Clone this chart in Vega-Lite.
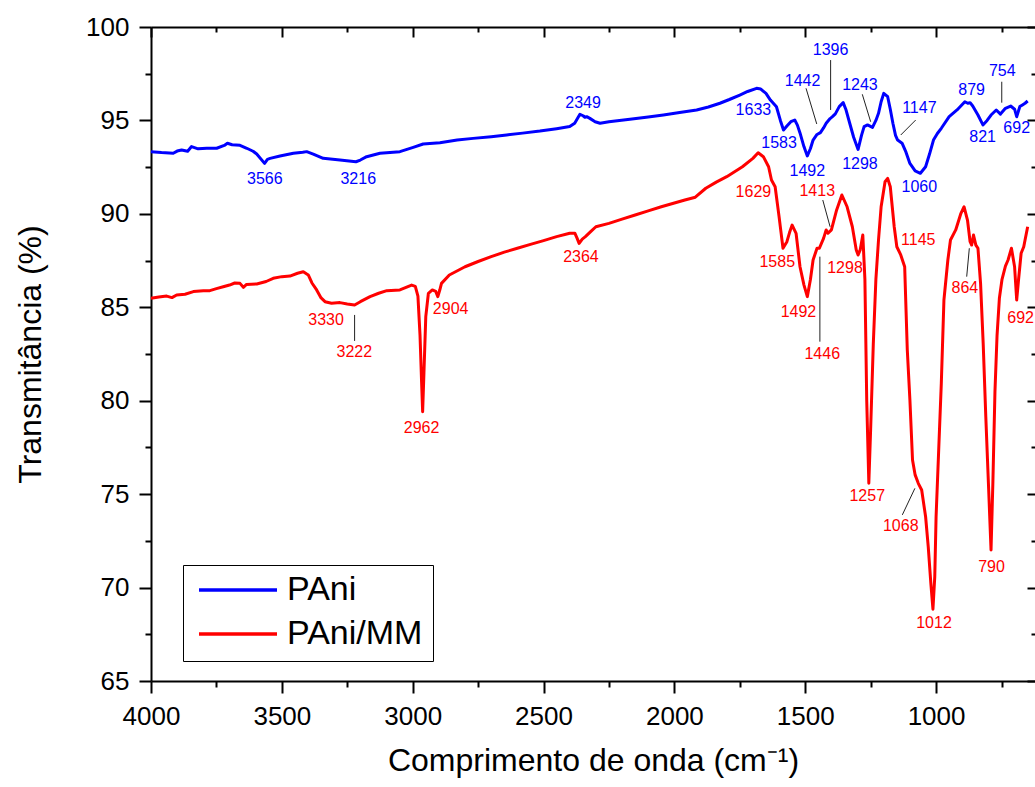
{
  "$schema": "https://vega.github.io/schema/vega-lite/v6.json",
  "width": 884,
  "height": 654,
  "autosize": {"type": "none"},
  "padding": {"left": 151, "top": 27, "right": 0, "bottom": 106},
  "background": "white",
  "config": {
    "font": "Liberation Sans",
    "view": {"stroke": null},
    "axis": {
      "grid": false,
      "domainColor": "black",
      "domainWidth": 2,
      "tickColor": "black",
      "tickWidth": 2,
      "labelFont": "Liberation Sans",
      "labelFontSize": 26,
      "labelColor": "black",
      "labelFlush": false,
      "labelOverlap": false,
      "titleFont": "Liberation Sans",
      "titleFontSize": 32,
      "titleFontWeight": "normal",
      "titleColor": "black"
    }
  },
  "datasets": {
    "spectra": [
      {"s":"PAni","wn":4000,"t":93.33},{"s":"PAni","wn":3960,"t":93.28},{"s":"PAni","wn":3915,"t":93.24},{"s":"PAni","wn":3900,"t":93.36},{"s":"PAni","wn":3883,"t":93.42},{"s":"PAni","wn":3860,"t":93.35},{"s":"PAni","wn":3845,"t":93.6},{"s":"PAni","wn":3820,"t":93.48},{"s":"PAni","wn":3787,"t":93.51},{"s":"PAni","wn":3749,"t":93.51},{"s":"PAni","wn":3720,"t":93.66},{"s":"PAni","wn":3708,"t":93.78},{"s":"PAni","wn":3690,"t":93.7},{"s":"PAni","wn":3660,"t":93.67},{"s":"PAni","wn":3634,"t":93.51},{"s":"PAni","wn":3610,"t":93.35},{"s":"PAni","wn":3596,"t":93.2},{"s":"PAni","wn":3566,"t":92.7},{"s":"PAni","wn":3555,"t":92.92},{"s":"PAni","wn":3545,"t":92.97},{"s":"PAni","wn":3507,"t":93.1},{"s":"PAni","wn":3456,"t":93.24},{"s":"PAni","wn":3420,"t":93.3},{"s":"PAni","wn":3405,"t":93.33},{"s":"PAni","wn":3380,"t":93.2},{"s":"PAni","wn":3342,"t":92.97},{"s":"PAni","wn":3278,"t":92.88},{"s":"PAni","wn":3217,"t":92.79},{"s":"PAni","wn":3200,"t":92.88},{"s":"PAni","wn":3176,"t":93.06},{"s":"PAni","wn":3125,"t":93.24},{"s":"PAni","wn":3049,"t":93.33},{"s":"PAni","wn":2998,"t":93.56},{"s":"PAni","wn":2960,"t":93.74},{"s":"PAni","wn":2896,"t":93.81},{"s":"PAni","wn":2830,"t":93.95},{"s":"PAni","wn":2769,"t":94.04},{"s":"PAni","wn":2700,"t":94.13},{"s":"PAni","wn":2641,"t":94.22},{"s":"PAni","wn":2580,"t":94.32},{"s":"PAni","wn":2514,"t":94.43},{"s":"PAni","wn":2450,"t":94.56},{"s":"PAni","wn":2400,"t":94.67},{"s":"PAni","wn":2381,"t":94.85},{"s":"PAni","wn":2361,"t":95.33},{"s":"PAni","wn":2349,"t":95.25},{"s":"PAni","wn":2342,"t":95.17},{"s":"PAni","wn":2335,"t":95.2},{"s":"PAni","wn":2323,"t":95.11},{"s":"PAni","wn":2303,"t":94.93},{"s":"PAni","wn":2284,"t":94.85},{"s":"PAni","wn":2250,"t":94.93},{"s":"PAni","wn":2170,"t":95.06},{"s":"PAni","wn":2100,"t":95.18},{"s":"PAni","wn":2042,"t":95.29},{"s":"PAni","wn":1980,"t":95.42},{"s":"PAni","wn":1915,"t":95.56},{"s":"PAni","wn":1870,"t":95.72},{"s":"PAni","wn":1826,"t":95.92},{"s":"PAni","wn":1790,"t":96.12},{"s":"PAni","wn":1750,"t":96.36},{"s":"PAni","wn":1720,"t":96.55},{"s":"PAni","wn":1686,"t":96.72},{"s":"PAni","wn":1670,"t":96.68},{"s":"PAni","wn":1650,"t":96.45},{"s":"PAni","wn":1633,"t":96.09},{"s":"PAni","wn":1610,"t":95.73},{"s":"PAni","wn":1595,"t":95.0},{"s":"PAni","wn":1583,"t":94.49},{"s":"PAni","wn":1570,"t":94.7},{"s":"PAni","wn":1555,"t":94.93},{"s":"PAni","wn":1540,"t":95.02},{"s":"PAni","wn":1530,"t":94.75},{"s":"PAni","wn":1520,"t":94.33},{"s":"PAni","wn":1505,"t":93.6},{"s":"PAni","wn":1492,"t":93.1},{"s":"PAni","wn":1480,"t":93.5},{"s":"PAni","wn":1470,"t":93.95},{"s":"PAni","wn":1455,"t":94.25},{"s":"PAni","wn":1442,"t":94.35},{"s":"PAni","wn":1430,"t":94.6},{"s":"PAni","wn":1420,"t":94.85},{"s":"PAni","wn":1405,"t":95.1},{"s":"PAni","wn":1396,"t":95.2},{"s":"PAni","wn":1385,"t":95.35},{"s":"PAni","wn":1370,"t":95.74},{"s":"PAni","wn":1355,"t":95.95},{"s":"PAni","wn":1345,"t":95.6},{"s":"PAni","wn":1330,"t":94.85},{"s":"PAni","wn":1315,"t":94.1},{"s":"PAni","wn":1298,"t":93.45},{"s":"PAni","wn":1285,"t":94.2},{"s":"PAni","wn":1275,"t":94.67},{"s":"PAni","wn":1262,"t":94.76},{"s":"PAni","wn":1243,"t":94.63},{"s":"PAni","wn":1230,"t":95.0},{"s":"PAni","wn":1220,"t":95.38},{"s":"PAni","wn":1210,"t":96.0},{"s":"PAni","wn":1200,"t":96.45},{"s":"PAni","wn":1185,"t":96.27},{"s":"PAni","wn":1175,"t":95.6},{"s":"PAni","wn":1165,"t":94.85},{"s":"PAni","wn":1155,"t":94.2},{"s":"PAni","wn":1147,"t":93.95},{"s":"PAni","wn":1130,"t":93.78},{"s":"PAni","wn":1115,"t":93.3},{"s":"PAni","wn":1100,"t":92.7},{"s":"PAni","wn":1080,"t":92.3},{"s":"PAni","wn":1060,"t":92.17},{"s":"PAni","wn":1040,"t":92.52},{"s":"PAni","wn":1025,"t":93.2},{"s":"PAni","wn":1010,"t":93.95},{"s":"PAni","wn":995,"t":94.3},{"s":"PAni","wn":980,"t":94.58},{"s":"PAni","wn":950,"t":95.2},{"s":"PAni","wn":920,"t":95.56},{"s":"PAni","wn":900,"t":95.85},{"s":"PAni","wn":890,"t":96.0},{"s":"PAni","wn":879,"t":95.92},{"s":"PAni","wn":870,"t":95.95},{"s":"PAni","wn":860,"t":95.77},{"s":"PAni","wn":840,"t":95.29},{"s":"PAni","wn":821,"t":94.76},{"s":"PAni","wn":805,"t":95.0},{"s":"PAni","wn":790,"t":95.29},{"s":"PAni","wn":770,"t":95.56},{"s":"PAni","wn":754,"t":95.34},{"s":"PAni","wn":735,"t":95.65},{"s":"PAni","wn":715,"t":95.77},{"s":"PAni","wn":700,"t":95.6},{"s":"PAni","wn":692,"t":95.2},{"s":"PAni","wn":680,"t":95.74},{"s":"PAni","wn":670,"t":95.83},{"s":"PAni","wn":660,"t":95.92},{"s":"PAni","wn":650,"t":96.04},
      {"s":"PAni/MM","wn":4000,"t":85.48},{"s":"PAni/MM","wn":3970,"t":85.55},{"s":"PAni/MM","wn":3940,"t":85.6},{"s":"PAni/MM","wn":3920,"t":85.52},{"s":"PAni/MM","wn":3902,"t":85.66},{"s":"PAni/MM","wn":3870,"t":85.7},{"s":"PAni/MM","wn":3838,"t":85.84},{"s":"PAni/MM","wn":3800,"t":85.89},{"s":"PAni/MM","wn":3775,"t":85.89},{"s":"PAni/MM","wn":3750,"t":86.0},{"s":"PAni/MM","wn":3724,"t":86.1},{"s":"PAni/MM","wn":3700,"t":86.19},{"s":"PAni/MM","wn":3680,"t":86.3},{"s":"PAni/MM","wn":3660,"t":86.28},{"s":"PAni/MM","wn":3647,"t":86.07},{"s":"PAni/MM","wn":3635,"t":86.22},{"s":"PAni/MM","wn":3596,"t":86.25},{"s":"PAni/MM","wn":3560,"t":86.38},{"s":"PAni/MM","wn":3533,"t":86.55},{"s":"PAni/MM","wn":3500,"t":86.64},{"s":"PAni/MM","wn":3469,"t":86.67},{"s":"PAni/MM","wn":3440,"t":86.82},{"s":"PAni/MM","wn":3418,"t":86.9},{"s":"PAni/MM","wn":3399,"t":86.73},{"s":"PAni/MM","wn":3385,"t":86.3},{"s":"PAni/MM","wn":3367,"t":85.93},{"s":"PAni/MM","wn":3350,"t":85.5},{"s":"PAni/MM","wn":3335,"t":85.3},{"s":"PAni/MM","wn":3310,"t":85.22},{"s":"PAni/MM","wn":3278,"t":85.25},{"s":"PAni/MM","wn":3250,"t":85.18},{"s":"PAni/MM","wn":3222,"t":85.12},{"s":"PAni/MM","wn":3200,"t":85.3},{"s":"PAni/MM","wn":3163,"t":85.57},{"s":"PAni/MM","wn":3130,"t":85.75},{"s":"PAni/MM","wn":3099,"t":85.89},{"s":"PAni/MM","wn":3049,"t":85.93},{"s":"PAni/MM","wn":3004,"t":86.19},{"s":"PAni/MM","wn":2990,"t":86.12},{"s":"PAni/MM","wn":2980,"t":85.6},{"s":"PAni/MM","wn":2972,"t":83.5},{"s":"PAni/MM","wn":2966,"t":81.0},{"s":"PAni/MM","wn":2962,"t":79.41},{"s":"PAni/MM","wn":2957,"t":81.5},{"s":"PAni/MM","wn":2950,"t":84.5},{"s":"PAni/MM","wn":2940,"t":85.75},{"s":"PAni/MM","wn":2925,"t":85.93},{"s":"PAni/MM","wn":2912,"t":85.85},{"s":"PAni/MM","wn":2904,"t":85.57},{"s":"PAni/MM","wn":2896,"t":85.95},{"s":"PAni/MM","wn":2890,"t":86.28},{"s":"PAni/MM","wn":2860,"t":86.73},{"s":"PAni/MM","wn":2800,"t":87.17},{"s":"PAni/MM","wn":2750,"t":87.45},{"s":"PAni/MM","wn":2700,"t":87.71},{"s":"PAni/MM","wn":2650,"t":87.95},{"s":"PAni/MM","wn":2600,"t":88.16},{"s":"PAni/MM","wn":2550,"t":88.37},{"s":"PAni/MM","wn":2500,"t":88.57},{"s":"PAni/MM","wn":2450,"t":88.78},{"s":"PAni/MM","wn":2400,"t":88.96},{"s":"PAni/MM","wn":2380,"t":88.96},{"s":"PAni/MM","wn":2372,"t":88.7},{"s":"PAni/MM","wn":2364,"t":88.42},{"s":"PAni/MM","wn":2352,"t":88.65},{"s":"PAni/MM","wn":2340,"t":88.78},{"s":"PAni/MM","wn":2320,"t":89.05},{"s":"PAni/MM","wn":2300,"t":89.31},{"s":"PAni/MM","wn":2250,"t":89.49},{"s":"PAni/MM","wn":2200,"t":89.72},{"s":"PAni/MM","wn":2150,"t":89.94},{"s":"PAni/MM","wn":2100,"t":90.16},{"s":"PAni/MM","wn":2050,"t":90.38},{"s":"PAni/MM","wn":2000,"t":90.58},{"s":"PAni/MM","wn":1960,"t":90.74},{"s":"PAni/MM","wn":1920,"t":90.89},{"s":"PAni/MM","wn":1880,"t":91.37},{"s":"PAni/MM","wn":1840,"t":91.7},{"s":"PAni/MM","wn":1800,"t":91.99},{"s":"PAni/MM","wn":1770,"t":92.25},{"s":"PAni/MM","wn":1740,"t":92.52},{"s":"PAni/MM","wn":1700,"t":92.97},{"s":"PAni/MM","wn":1680,"t":93.27},{"s":"PAni/MM","wn":1660,"t":93.06},{"s":"PAni/MM","wn":1640,"t":92.52},{"s":"PAni/MM","wn":1629,"t":91.81},{"s":"PAni/MM","wn":1615,"t":91.45},{"s":"PAni/MM","wn":1600,"t":89.85},{"s":"PAni/MM","wn":1585,"t":88.16},{"s":"PAni/MM","wn":1570,"t":88.51},{"s":"PAni/MM","wn":1560,"t":89.0},{"s":"PAni/MM","wn":1550,"t":89.4},{"s":"PAni/MM","wn":1535,"t":88.96},{"s":"PAni/MM","wn":1520,"t":87.17},{"s":"PAni/MM","wn":1505,"t":86.2},{"s":"PAni/MM","wn":1492,"t":85.57},{"s":"PAni/MM","wn":1480,"t":86.5},{"s":"PAni/MM","wn":1470,"t":87.53},{"s":"PAni/MM","wn":1455,"t":88.16},{"s":"PAni/MM","wn":1446,"t":88.16},{"s":"PAni/MM","wn":1430,"t":88.69},{"s":"PAni/MM","wn":1420,"t":89.14},{"s":"PAni/MM","wn":1413,"t":88.96},{"s":"PAni/MM","wn":1400,"t":89.14},{"s":"PAni/MM","wn":1380,"t":90.21},{"s":"PAni/MM","wn":1360,"t":91.01},{"s":"PAni/MM","wn":1340,"t":90.38},{"s":"PAni/MM","wn":1320,"t":89.31},{"s":"PAni/MM","wn":1305,"t":88.07},{"s":"PAni/MM","wn":1298,"t":87.8},{"s":"PAni/MM","wn":1290,"t":88.07},{"s":"PAni/MM","wn":1280,"t":88.87},{"s":"PAni/MM","wn":1272,"t":86.5},{"s":"PAni/MM","wn":1265,"t":80.0},{"s":"PAni/MM","wn":1257,"t":75.58},{"s":"PAni/MM","wn":1250,"t":78.5},{"s":"PAni/MM","wn":1240,"t":83.0},{"s":"PAni/MM","wn":1230,"t":86.5},{"s":"PAni/MM","wn":1220,"t":88.6},{"s":"PAni/MM","wn":1210,"t":90.38},{"s":"PAni/MM","wn":1195,"t":91.72},{"s":"PAni/MM","wn":1185,"t":91.9},{"s":"PAni/MM","wn":1175,"t":91.45},{"s":"PAni/MM","wn":1160,"t":89.31},{"s":"PAni/MM","wn":1150,"t":88.24},{"s":"PAni/MM","wn":1135,"t":87.8},{"s":"PAni/MM","wn":1120,"t":87.17},{"s":"PAni/MM","wn":1110,"t":82.71},{"s":"PAni/MM","wn":1100,"t":80.04},{"s":"PAni/MM","wn":1090,"t":76.83},{"s":"PAni/MM","wn":1080,"t":76.03},{"s":"PAni/MM","wn":1068,"t":75.58},{"s":"PAni/MM","wn":1055,"t":75.22},{"s":"PAni/MM","wn":1040,"t":73.79},{"s":"PAni/MM","wn":1030,"t":72.19},{"s":"PAni/MM","wn":1020,"t":70.23},{"s":"PAni/MM","wn":1012,"t":68.84},{"s":"PAni/MM","wn":1005,"t":70.59},{"s":"PAni/MM","wn":1000,"t":73.79},{"s":"PAni/MM","wn":990,"t":77.36},{"s":"PAni/MM","wn":980,"t":80.94},{"s":"PAni/MM","wn":970,"t":85.39},{"s":"PAni/MM","wn":955,"t":87.53},{"s":"PAni/MM","wn":945,"t":88.6},{"s":"PAni/MM","wn":925,"t":89.14},{"s":"PAni/MM","wn":905,"t":90.03},{"s":"PAni/MM","wn":893,"t":90.38},{"s":"PAni/MM","wn":880,"t":89.67},{"s":"PAni/MM","wn":870,"t":88.51},{"s":"PAni/MM","wn":864,"t":88.33},{"s":"PAni/MM","wn":857,"t":88.87},{"s":"PAni/MM","wn":848,"t":88.33},{"s":"PAni/MM","wn":840,"t":88.16},{"s":"PAni/MM","wn":830,"t":86.28},{"s":"PAni/MM","wn":820,"t":83.07},{"s":"PAni/MM","wn":810,"t":79.14},{"s":"PAni/MM","wn":800,"t":75.58},{"s":"PAni/MM","wn":790,"t":72.01},{"s":"PAni/MM","wn":783,"t":75.6},{"s":"PAni/MM","wn":775,"t":80.5},{"s":"PAni/MM","wn":767,"t":83.5},{"s":"PAni/MM","wn":758,"t":85.5},{"s":"PAni/MM","wn":748,"t":86.5},{"s":"PAni/MM","wn":735,"t":87.2},{"s":"PAni/MM","wn":725,"t":87.53},{"s":"PAni/MM","wn":712,"t":88.16},{"s":"PAni/MM","wn":700,"t":87.17},{"s":"PAni/MM","wn":692,"t":85.39},{"s":"PAni/MM","wn":685,"t":86.46},{"s":"PAni/MM","wn":675,"t":87.89},{"s":"PAni/MM","wn":665,"t":88.24},{"s":"PAni/MM","wn":660,"t":88.6},{"s":"PAni/MM","wn":650,"t":89.31}
    ],
    "labels": [
      {"s":"PAni","txt":"3566","wn":3565,"t":91.87},{"s":"PAni","txt":"3216","wn":3208,"t":91.87},{"s":"PAni","txt":"2349","wn":2349,"t":95.93},{"s":"PAni","txt":"1633","wn":1698,"t":95.56},{"s":"PAni","txt":"1583","wn":1600,"t":93.81},{"s":"PAni","txt":"1442","wn":1510,"t":97.11},{"s":"PAni","txt":"1396","wn":1403,"t":98.77},{"s":"PAni","txt":"1492","wn":1492,"t":92.31},{"s":"PAni","txt":"1243","wn":1291,"t":96.9},{"s":"PAni","txt":"1298","wn":1291,"t":92.67},{"s":"PAni","txt":"1147","wn":1064,"t":95.65},{"s":"PAni","txt":"1060","wn":1064,"t":91.45},{"s":"PAni","txt":"879","wn":864,"t":96.63},{"s":"PAni","txt":"821","wn":822,"t":94.13},{"s":"PAni","txt":"754","wn":747,"t":97.66},{"s":"PAni","txt":"692","wn":692,"t":94.58},
      {"s":"PAni/MM","txt":"3330","wn":3331,"t":84.32},{"s":"PAni/MM","txt":"3222","wn":3223,"t":82.62},{"s":"PAni/MM","txt":"2962","wn":2966,"t":78.56},{"s":"PAni/MM","txt":"2904","wn":2855,"t":84.89},{"s":"PAni/MM","txt":"2364","wn":2357,"t":87.71},{"s":"PAni/MM","txt":"1629","wn":1698,"t":91.15},{"s":"PAni/MM","txt":"1413","wn":1454,"t":91.24},{"s":"PAni/MM","txt":"1585","wn":1607,"t":87.41},{"s":"PAni/MM","txt":"1298","wn":1348,"t":87.12},{"s":"PAni/MM","txt":"1145","wn":1068,"t":88.6},{"s":"PAni/MM","txt":"864","wn":890,"t":86.02},{"s":"PAni/MM","txt":"1492","wn":1526,"t":84.77},{"s":"PAni/MM","txt":"1446","wn":1435,"t":82.48},{"s":"PAni/MM","txt":"692","wn":677,"t":84.41},{"s":"PAni/MM","txt":"1257","wn":1263,"t":74.92},{"s":"PAni/MM","txt":"1068","wn":1135,"t":73.3},{"s":"PAni/MM","txt":"1012","wn":1008,"t":68.09},{"s":"PAni/MM","txt":"790","wn":788,"t":71.12}
    ],
    "leaders": [
      {"a":1497,"b":1456,"c":96.72,"d":94.81},{"a":1403,"b":1403,"c":98.23,"d":95.56},{"a":1282,"b":1250,"c":96.4,"d":94.93},{"a":1078,"b":1135,"c":95.02,"d":94.22},{"a":749,"b":749,"c":97.07,"d":95.95},
      {"a":3222,"b":3222,"c":84.59,"d":83.2},{"a":1433,"b":1405,"c":90.74,"d":89.31},{"a":1444,"b":1444,"c":87.71,"d":83.16},{"a":873,"b":883,"c":88.16,"d":86.64},{"a":1081,"b":1129,"c":75.31,"d":73.89}
    ]
  },
  "resolve": {"axis": {"x": "independent", "y": "independent"}},
  "layer": [
    {
      "data": {"name": "spectra"},
      "mark": {"type": "line", "strokeWidth": 3, "strokeJoin": "round"},
      "encoding": {
        "x": {"field": "wn", "type": "quantitative",
          "scale": {"domain": [622, 4000], "reverse": true, "nice": false, "zero": false},
          "axis": {"orient": "bottom", "values": [4000,3500,3000,2500,2000,1500,1000], "format": "d", "tickSize": 12, "labelPadding": 10, "title": "Comprimento de onda (cm⁻¹)", "titlePadding": 16}},
        "y": {"field": "t", "type": "quantitative",
          "scale": {"domain": [65, 100], "nice": false, "zero": false},
          "axis": {"orient": "left", "values": [65,70,75,80,85,90,95,100], "tickSize": 12, "labelPadding": 10, "title": "Transmitância (%)", "titlePadding": 38}},
        "color": {"field": "s", "type": "nominal",
          "scale": {"domain": ["PAni", "PAni/MM"], "range": ["#0000ff", "#ff0000"]},
          "legend": {"title": null, "orient": "none", "legendX": 32, "legendY": 538,
            "symbolType": "stroke", "symbolSize": 6084, "symbolStrokeWidth": 3.5,
            "clipHeight": 30,
            "labelFontSize": 34, "labelFont": "Liberation Sans", "labelColor": "black",
            "padding": 10, "rowPadding": 10, "labelOffset": 8, "symbolOffset": 4,
            "strokeColor": "black", "fillColor": "white", "labelLimit": 400}},
        "order": {"field": "wn", "type": "quantitative", "sort": "descending"}
      }
    },
    {
      "data": {"name": "labels"},
      "transform": [{"filter": "datum.s === 'PAni'"}],
      "mark": {"type": "text", "fontSize": 16, "font": "Liberation Sans", "align": "center", "baseline": "middle"},
      "encoding": {
        "x": {"field": "wn", "type": "quantitative",
          "scale": {"domain": [622, 4000], "reverse": true, "nice": false, "zero": false},
          "axis": {"orient": "top", "values": [4000,3500,3000,2500,2000,1500,1000], "tickSize": -10, "labels": false, "title": null, "domain": true}},
        "y": {"field": "t", "type": "quantitative",
          "scale": {"domain": [65, 100], "nice": false, "zero": false},
          "axis": {"orient": "right", "values": [65,70,75,80,85,90,95,100], "tickSize": -8, "labels": false, "title": null, "domain": false}},
        "text": {"field": "txt"},
        "color": {"field": "s", "type": "nominal", "legend": null}
      }
    },
    {
      "data": {"name": "labels"},
      "transform": [{"filter": "datum.s === 'PAni/MM'"}],
      "mark": {"type": "text", "fontSize": 16, "font": "Liberation Sans", "align": "center", "baseline": "middle"},
      "encoding": {
        "x": {"field": "wn", "type": "quantitative",
          "scale": {"domain": [622, 4000], "reverse": true, "nice": false, "zero": false},
          "axis": {"orient": "top", "values": [3750,3250,2750,2250,1750,1250,750], "tickSize": -5, "labels": false, "title": null, "domain": false}},
        "y": {"field": "t", "type": "quantitative",
          "scale": {"domain": [65, 100], "nice": false, "zero": false},
          "axis": {"orient": "right", "values": [67.5,72.5,77.5,82.5,87.5,92.5,97.5], "tickSize": -4, "labels": false, "title": null, "domain": false}},
        "text": {"field": "txt"},
        "color": {"field": "s", "type": "nominal", "legend": null}
      }
    },
    {
      "data": {"name": "leaders"},
      "mark": {"type": "rule", "color": "#222222", "strokeWidth": 1},
      "encoding": {
        "x": {"field": "a", "type": "quantitative",
          "scale": {"domain": [622, 4000], "reverse": true, "nice": false, "zero": false},
          "axis": {"orient": "bottom", "values": [3750,3250,2750,2250,1750,1250,750], "tickSize": 6, "labels": false, "title": null, "domain": false}},
        "x2": {"field": "b"},
        "y": {"field": "c", "type": "quantitative",
          "scale": {"domain": [65, 100], "nice": false, "zero": false},
          "axis": {"orient": "left", "values": [67.5,72.5,77.5,82.5,87.5,92.5,97.5], "tickSize": 6, "labels": false, "title": null, "domain": false}},
        "y2": {"field": "d"}
      }
    }
  ]
}
